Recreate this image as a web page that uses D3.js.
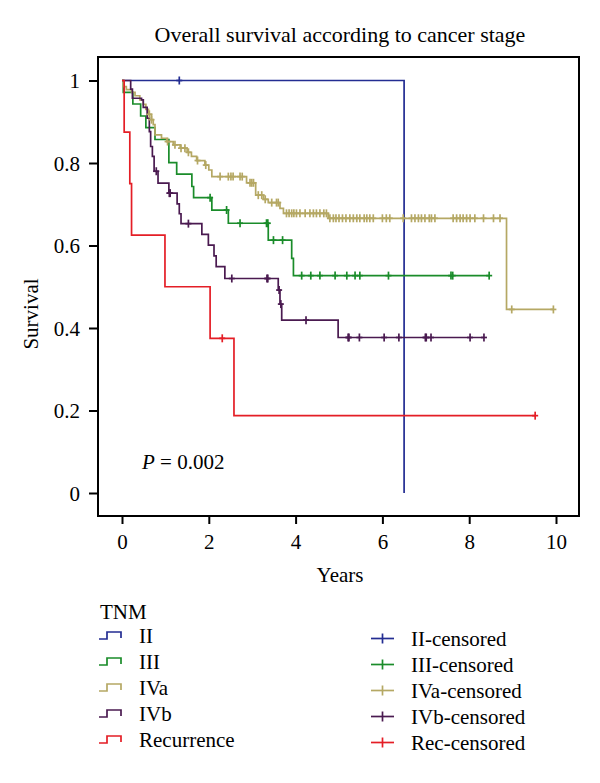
<!DOCTYPE html>
<html><head><meta charset="utf-8">
<script src="https://cdn.jsdelivr.net/npm/d3@7"></script>
<style>body{margin:0;background:#fff}svg text{font-family:"Liberation Serif",serif;fill:#000}</style>
</head><body>
<svg id="c" width="600" height="783"></svg>
<script>
// ---- data ----
const groups = ["II", "III", "IVa", "IVb", "Recurrence"];
const censorLabels = ["II-censored", "III-censored", "IVa-censored", "IVb-censored", "Rec-censored"];
const colors = ["#232d92", "#1a8c2a", "#b5a864", "#4a1a50", "#e41e26"];

const II_times = [6.5];
const II_surv = [0];
const II_censor = [1.32];

const III_times = [0.03, 0.25, 0.43, 0.55, 0.76, 1.08, 1.26, 1.61, 1.65, 2.07, 2.45, 3.37, 3.91, 3.95];
const III_surv = [0.971, 0.943, 0.914, 0.886, 0.857, 0.801, 0.773, 0.743, 0.716, 0.686, 0.654, 0.613, 0.569, 0.527];
const III_censor = [2.03, 2.41, 2.72, 3.33, 3.36, 3.49, 3.70, 4.14, 4.35, 4.56, 4.91, 5.18, 5.37, 5.48, 6.14, 7.58, 7.62, 8.46];

const IVa_times = [0.03, 0.10, 0.22, 0.30, 0.41, 0.49, 0.55, 0.61, 0.68, 0.72, 0.76, 0.91, 1.03, 1.18, 1.34, 1.50, 1.60, 1.72, 1.91, 2.00, 2.07, 2.87, 3.08, 3.26, 3.37, 3.64, 3.72, 4.75, 8.86];
const IVa_surv = [0.985, 0.978, 0.971, 0.963, 0.953, 0.942, 0.930, 0.918, 0.905, 0.893, 0.868, 0.860, 0.852, 0.844, 0.836, 0.826, 0.816, 0.806, 0.795, 0.783, 0.767, 0.752, 0.722, 0.712, 0.704, 0.690, 0.678, 0.666, 0.445];
const IVa_censor = [0.63, 0.68, 1.05, 1.22, 1.36, 1.45, 1.53, 1.74, 1.93, 2.26, 2.45, 2.51, 2.56, 2.72, 2.77, 2.95, 2.99, 3.03, 3.14, 3.22, 3.30, 3.45, 3.56, 3.60, 3.79, 3.85, 3.91, 3.96, 4.02, 4.10, 4.22, 4.33, 4.41, 4.48, 4.56, 4.65, 4.71, 4.79, 4.87, 4.93, 5.00, 5.08, 5.16, 5.25, 5.33, 5.41, 5.48, 5.58, 5.64, 5.71, 5.79, 6.00, 6.09, 6.17, 6.48, 6.67, 6.75, 6.83, 6.90, 6.98, 7.08, 7.13, 7.21, 7.63, 7.71, 7.79, 7.86, 7.94, 8.02, 8.13, 8.33, 8.56, 8.71, 8.98, 9.94];

const IVb_times = [0.20, 0.24, 0.45, 0.49, 0.58, 0.63, 0.66, 0.70, 0.74, 0.83, 1.08, 1.27, 1.32, 1.36, 1.84, 1.99, 2.12, 2.17, 2.37, 3.60, 3.64, 3.68, 4.98];
const IVb_surv = [0.979, 0.957, 0.953, 0.935, 0.909, 0.876, 0.840, 0.816, 0.780, 0.751, 0.727, 0.701, 0.677, 0.653, 0.627, 0.601, 0.575, 0.549, 0.520, 0.492, 0.458, 0.419, 0.377];
const IVb_censor = [0.79, 1.09, 1.11, 1.53, 2.53, 3.34, 3.36, 3.62, 3.66, 4.24, 5.21, 5.23, 5.47, 6.04, 6.38, 6.99, 7.01, 7.12, 8.02, 8.34];

const Rec_times = [0.05, 0.18, 0.22, 0.99, 2.03, 2.58];
const Rec_surv = [0.875, 0.75, 0.625, 0.5, 0.375, 0.1875];
const Rec_censor = [2.31, 9.52];

const xTicks = [0, 2, 4, 6, 8, 10];
const yTicks = [0, 0.2, 0.4, 0.6, 0.8, 1];
const titleText = "Overall survival according to cancer stage";
const xLabel = "Years";
const yLabel = "Survival";

// ---- build series ----
const series = [
  {times: II_times, surv: II_surv, cens: II_censor},
  {times: III_times, surv: III_surv, cens: III_censor},
  {times: IVa_times, surv: IVa_surv, cens: IVa_censor},
  {times: IVb_times, surv: IVb_surv, cens: IVb_censor},
  {times: Rec_times, surv: Rec_surv, cens: Rec_censor}
].map((d, i) => ({...d, name: groups[i], color: colors[i]}));

const svg = d3.select("#c");
const x = d3.scaleLinear().domain([0, 10]).range([122, 556]);
const y = d3.scaleLinear().domain([0, 1]).range([493, 80.5]);
const frame = {x0: 98, x1: 579, y0: 57, y1: 516};

// frame
svg.append("rect").attr("x", frame.x0).attr("y", frame.y0)
  .attr("width", frame.x1 - frame.x0).attr("height", frame.y1 - frame.y0)
  .attr("fill", "none").attr("stroke", "#000").attr("stroke-width", 2);

// axes
const xAxis = d3.axisBottom(x).tickValues(xTicks).tickSize(8).tickPadding(6).tickFormat(d3.format("d"));
const gx = svg.append("g").attr("transform", `translate(0,${frame.y1})`).call(xAxis);
gx.select(".domain").remove();
gx.selectAll(".tick line").attr("stroke", "#000").attr("stroke-width", 2);
gx.selectAll(".tick text").attr("font-size", 21).attr("font-family", "Liberation Serif").attr("dy", null).attr("y", 33);

const yAxis = d3.axisLeft(y).tickValues(yTicks).tickSize(9).tickPadding(9).tickFormat(d => d === 0 || d === 1 ? d3.format("d")(d) : d3.format(".1f")(d));
const gy = svg.append("g").attr("transform", `translate(${frame.x0},0)`).call(yAxis);
gy.select(".domain").remove();
gy.selectAll(".tick line").attr("stroke", "#000").attr("stroke-width", 2);
gy.selectAll(".tick text").attr("font-size", 21).attr("font-family", "Liberation Serif").attr("dy", "0.34em");

// labels
svg.append("text").attr("x", 340).attr("y", 42).attr("text-anchor", "middle").attr("font-size", 22).text(titleText);
svg.append("text").attr("x", 340).attr("y", 582).attr("text-anchor", "middle").attr("font-size", 21).text(xLabel);
svg.append("text").attr("transform", "translate(38,314) rotate(-90)").attr("text-anchor", "middle").attr("font-size", 21).text(yLabel);
const pt = svg.append("text").attr("x", 142).attr("y", 469).attr("font-size", 21);
pt.append("tspan").attr("font-style", "italic").text("P");
pt.append("tspan").text(" = 0.002");

// curves
const line = d3.line().x(d => x(d[0])).y(d => y(d[1])).curve(d3.curveStepAfter);
function survAt(s, t) {
  let v = 1;
  s.times.forEach((tt, i) => { if (tt <= t) v = s.surv[i]; });
  return v;
}
series.forEach(s => {
  const end = Math.max(d3.max(s.times), d3.max(s.cens));
  const pts = [[0, 1]].concat(s.times.map((t, i) => [t, s.surv[i]]));
  pts.push([end, s.surv[s.surv.length - 1]]);
  svg.append("path").attr("d", line(pts)).attr("fill", "none")
    .attr("stroke", s.color).attr("stroke-width", 1.7);
});
series.forEach(s => {
  const g = svg.append("g").attr("stroke", s.color).attr("stroke-width", 1.7);
  s.cens.forEach(t => {
    const cx = x(t), cy = y(survAt(s, t));
    g.append("line").attr("x1", cx).attr("x2", cx).attr("y1", cy - 4).attr("y2", cy + 4);
    g.append("line").attr("x1", cx - 3).attr("x2", cx + 3).attr("y1", cy).attr("y2", cy);
  });
});

// legend
svg.append("text").attr("x", 100).attr("y", 619).attr("font-size", 21).text("TNM");
const legY = d3.scaleLinear().domain([0, 4]).range([636, 740]);
groups.forEach((g, i) => {
  const cy = legY(i);
  const p = d3.path();
  p.moveTo(99, cy + 3); p.lineTo(107, cy + 3); p.lineTo(107, cy - 4); p.lineTo(121, cy - 4); p.lineTo(121, cy + 2);
  svg.append("path").attr("d", p.toString()).attr("fill", "none").attr("stroke", colors[i]).attr("stroke-width", 1.7);
  svg.append("text").attr("x", 139).attr("y", cy + 7).attr("font-size", 21).text(g);
});
censorLabels.forEach((g, i) => {
  const cy = legY(i) + 2.5;
  svg.append("line").attr("x1", 371).attr("x2", 394).attr("y1", cy).attr("y2", cy).attr("stroke", colors[i]).attr("stroke-width", 1.7);
  svg.append("line").attr("x1", 382.5).attr("x2", 382.5).attr("y1", cy - 5).attr("y2", cy + 5).attr("stroke", colors[i]).attr("stroke-width", 1.7);
  svg.append("text").attr("x", 411).attr("y", cy + 7).attr("font-size", 21).text(g);
});
</script>
</body></html>
